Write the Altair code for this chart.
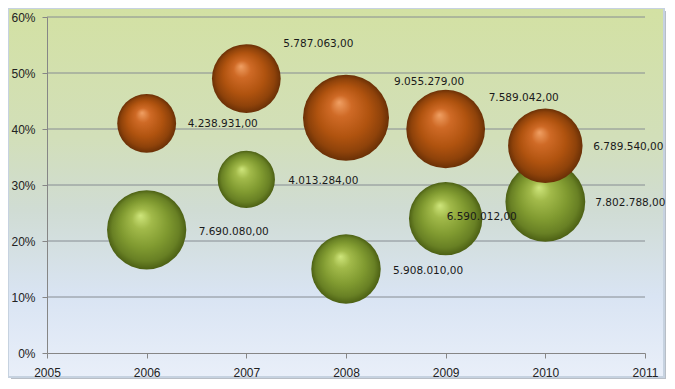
import altair as alt
import pandas as pd

# ---- data ----
years = [2006, 2007, 2008, 2009, 2010]
series_names = ["Orange", "Green"]
orange_pct = [0.41, 0.49, 0.42, 0.40, 0.37]
orange_size = [4238931, 5787063, 9055279, 7589042, 6789540]
green_pct = [0.22, 0.31, 0.15, 0.24, 0.27]
green_size = [7690080, 4013284, 5908010, 6590012, 7802788]
x_ticks = [2005, 2006, 2007, 2008, 2009, 2010, 2011]
y_ticks = [0.0, 0.1, 0.2, 0.3, 0.4, 0.5, 0.6]

rows = []
for s, pcts, sizes in [("Orange", orange_pct, orange_size), ("Green", green_pct, green_size)]:
    for yr, p, sz in zip(years, pcts, sizes):
        rows.append({"series": s, "year": yr, "pct": p, "size": sz,
                     "label": f"{sz:,.2f}".replace(",", "X").replace(".", ",").replace("X", ".")})
df = pd.DataFrame(rows)
grid_df = pd.DataFrame({"tick": y_ticks[1:]})

# ---- layout / style (not data) ----
W, H = 598, 336
PAD = {"left": 39, "top": 9, "right": 21, "bottom": 26}
label_nudge = {
    ("Orange", 2006): (41, 1), ("Orange", 2007): (37, -35), ("Orange", 2008): (48, -36),
    ("Orange", 2009): (43, -31), ("Orange", 2010): (48, 1),
    ("Green", 2006): (52, 2), ("Green", 2007): (42, 2), ("Green", 2008): (47, 2),
    ("Green", 2009): (1, -2), ("Green", 2010): (50, 1),
}

x_scale = alt.Scale(domain=[2005, 2011], nice=False, zero=False)
y_scale = alt.Scale(domain=[0, 0.6], nice=False)
size_scale = alt.Scale(domain=[0, 9055279], range=[0, 7396], zero=True)

axis_common = dict(labelFont="Liberation Sans", labelFontSize=12, labelColor="#222222",
                   domainColor="#868686", tickColor="#868686", tickSize=5,
                   grid=False, title=None, zindex=1, labelFlush=False)
x_axis = alt.Axis(values=x_ticks, format="d", labelPadding=9, **axis_common)
y_axis = alt.Axis(values=y_ticks, format=".0%", labelPadding=7, **axis_common)


def X(field):
    return alt.X(field, scale=x_scale, axis=x_axis)


def Y(field):
    return alt.Y(field, scale=y_scale, axis=y_axis)


one = alt.Data(values=[{"a": 1}])

right_edge = W + PAD["right"]
bottom_edge = H + PAD["bottom"]

shadow = alt.Chart(one).mark_rect(fill="#9aa2ae", opacity=0.7).encode(
    x=alt.value(-36), x2=alt.value(right_edge), y=alt.value(-6), y2=alt.value(bottom_edge))

bg_grad = alt.LinearGradient(
    gradient="linear", x1=0, x2=0, y1=0, y2=1,
    stops=[alt.GradientStop(offset=0, color="#d3e1a3"),
           alt.GradientStop(offset=0.35, color="#d2dfb9"),
           alt.GradientStop(offset=0.55, color="#d0dcd4"),
           alt.GradientStop(offset=0.78, color="#d9e4f3"),
           alt.GradientStop(offset=1, color="#e9eff9")])
frame = alt.Chart(one).mark_rect(fill=bg_grad, stroke="#c6d2e0", strokeWidth=2).encode(
    x=alt.value(-39), x2=alt.value(right_edge - 2), y=alt.value(-9), y2=alt.value(bottom_edge - 2))

grid = alt.Chart(grid_df).mark_rule(color="#868c92", strokeWidth=1).encode(
    y=Y("tick:Q"), x=alt.value(0), x2=alt.value(W))


def sphere(stops):
    return alt.RadialGradient(
        gradient="radial", x1=0.42, y1=0.32, r1=0, x2=0.5, y2=0.5, r2=0.5,
        stops=[alt.GradientStop(offset=o, color=c) for o, c in stops])


orange_fill = sphere([(0, "#f0a064"), (0.25, "#cf6a26"), (0.6, "#b0530f"),
                      (0.85, "#8e420a"), (1, "#6a3006")])
green_fill = sphere([(0, "#cfe67c"), (0.25, "#a2ba4a"), (0.6, "#809a30"),
                     (0.85, "#688024"), (1, "#4c6014")])


def bubbles(name, fill):
    return alt.Chart(df).transform_filter(alt.datum.series == name).mark_circle(
        fill=fill, opacity=1, strokeWidth=0).encode(
        x=X("year:Q"), y=Y("pct:Q"),
        size=alt.Size("size:Q", scale=size_scale, legend=None))


layers = [shadow, frame, grid, bubbles("Green", green_fill), bubbles("Orange", orange_fill)]

for (s, yr), (dx, dy) in label_nudge.items():
    layers.append(
        alt.Chart(df).transform_filter((alt.datum.series == s) & (alt.datum.year == yr))
        .mark_text(align="left", baseline="middle", dx=dx, dy=dy, font="DejaVu Sans",
                   fontSize=10.5, color="#1a1a1a")
        .encode(x=X("year:Q"), y=Y("pct:Q"), text="label:N"))

chart = alt.layer(*layers).properties(
    width=W, height=H,
    autosize=alt.AutoSizeParams(type="none"),
    padding=PAD,
    background="white",
).configure_view(strokeWidth=0)

chart.save("out.html", embed_options={"renderer": "svg", "actions": False})
